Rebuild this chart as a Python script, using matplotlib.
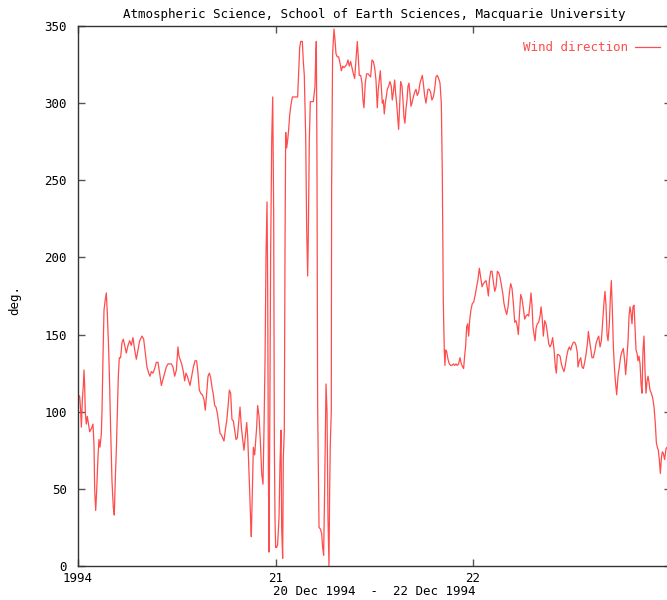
import matplotlib
matplotlib.use("Agg")
import matplotlib.pyplot as plt

# Wind direction, 20-22 Dec 1994. Time in hours since 20 Dec 00:00, direction in degrees.
hours = [
    0.00, 0.20, 0.32, 0.41, 0.53, 0.65, 0.73, 0.81, 0.89, 1.01, 1.13, 1.30, 1.42, 1.62, 1.82,
    1.94, 2.03, 2.15, 2.27, 2.43, 2.55, 2.67, 2.84, 2.92, 3.04, 3.16, 3.32, 3.44, 3.56, 3.73,
    3.85, 3.97, 4.13, 4.29, 4.41, 4.54, 4.66, 4.78, 4.90, 5.02, 5.18, 5.35, 5.51, 5.67, 5.87,
    6.08, 6.28, 6.48, 6.68, 6.89, 7.09, 7.29, 7.49, 7.78, 7.98, 8.18, 8.38, 8.59, 8.75, 8.91,
    9.11, 9.32, 9.52, 9.72, 9.92, 10.13, 10.33, 10.53, 10.73, 10.94, 11.34, 11.54, 11.75, 11.95,
    12.15, 12.27, 12.60, 12.80, 12.96, 13.12, 13.29, 13.45, 13.61, 13.81, 14.02, 14.22, 14.42,
    14.58, 14.74, 14.91, 15.11, 15.31, 15.47, 15.64, 15.80, 15.96, 16.12, 16.28, 16.45, 16.61,
    16.77, 16.93, 17.09, 17.26, 17.42, 17.58, 17.74, 17.90, 18.07, 18.23, 18.39, 18.55, 18.71,
    18.88, 19.04, 19.20, 19.36, 19.52, 19.69, 19.85, 20.01, 20.17, 20.33, 20.50, 20.62, 20.74,
    20.86, 20.98, 21.06, 21.18, 21.31, 21.47, 21.71, 21.83, 22.00, 22.16, 22.32, 22.48, 22.60,
    22.73, 22.85, 22.97, 23.05, 23.13, 23.21, 23.29, 23.41, 23.54, 23.66, 23.78, 23.86, 23.94,
    24.02, 24.14, 24.26, 24.43, 24.55, 24.67, 24.75, 24.87, 24.95, 25.07, 25.16, 25.24, 25.36,
    25.48, 25.60, 25.72, 25.88, 26.05, 26.37, 26.69, 26.82, 26.94, 27.06, 27.26, 27.38, 27.50,
    27.67, 27.79, 27.91, 27.99, 28.11, 28.23, 28.40, 28.60, 28.80, 28.88, 28.96, 29.04, 29.12,
    29.29, 29.45, 29.61, 29.73, 29.85, 29.98, 30.14, 30.26, 30.38, 30.50, 30.58, 30.66, 30.78,
    30.82, 30.94, 31.11, 31.23, 31.35, 31.51, 31.67, 31.84, 32.00, 32.16, 32.32, 32.48, 32.65,
    32.81, 32.97, 33.13, 33.29, 33.46, 33.62, 33.78, 33.94, 34.06, 34.18, 34.35, 34.51, 34.63,
    34.75, 34.91, 35.07, 35.24, 35.40, 35.56, 35.72, 35.89, 36.05, 36.21, 36.37, 36.49, 36.61,
    36.74, 36.86, 36.98, 37.10, 37.22, 37.34, 37.46, 37.59, 37.75, 37.91, 38.07, 38.19, 38.32,
    38.48, 38.60, 38.72, 38.84, 38.96, 39.08, 39.21, 39.37, 39.49, 39.61, 39.73, 39.85, 39.98,
    40.10, 40.22, 40.34, 40.46, 40.58, 40.75, 40.91, 41.07, 41.23, 41.39, 41.56, 41.72, 41.84,
    41.96, 42.12, 42.28, 42.41, 42.53, 42.69, 42.85, 43.01, 43.18, 43.34, 43.50, 43.66, 43.82,
    43.99, 44.15, 44.27, 44.39, 44.51, 44.59, 44.67, 44.80, 44.96, 45.12, 45.28, 45.44, 45.61,
    45.77, 45.93, 46.09, 46.25, 46.42, 46.58, 46.74, 46.86, 46.98, 47.10, 47.23, 47.35, 47.47,
    47.59, 47.75, 47.91, 48.08, 48.24, 48.44, 48.61, 48.77, 48.94, 49.10, 49.26, 49.42, 49.58,
    49.75, 49.87, 49.99, 50.15, 50.31, 50.48, 50.64, 50.80, 50.96, 51.12, 51.29, 51.45, 51.61,
    51.77, 51.93, 52.10, 52.26, 52.42, 52.58, 52.74, 52.91, 53.07, 53.23, 53.39, 53.51, 53.63,
    53.80, 53.96, 54.12, 54.28, 54.44, 54.61, 54.77, 54.93, 55.05, 55.17, 55.29, 55.42, 55.54,
    55.66, 55.82, 55.98, 56.15, 56.27, 56.39, 56.55, 56.71, 56.87, 57.04, 57.20, 57.36, 57.52,
    57.68, 57.85, 58.01, 58.13, 58.25, 58.41, 58.58, 58.74, 58.90, 59.06, 59.22, 59.39, 59.55,
    59.71, 59.87, 60.03, 60.20, 60.36, 60.52, 60.68, 60.76, 60.92, 61.09, 61.25, 61.41, 61.57,
    61.73, 61.90, 62.02, 62.14, 62.30, 62.46, 62.62, 62.79, 62.95, 63.11, 63.27, 63.44, 63.60,
    63.76, 63.92, 64.04, 64.16, 64.29, 64.41, 64.57, 64.69, 64.81, 64.93, 65.06, 65.18, 65.30,
    65.46, 65.62, 65.78, 65.95, 66.11, 66.27, 66.43, 66.55, 66.68, 66.84, 66.96, 67.08, 67.20,
    67.32, 67.44, 67.57, 67.69, 67.81, 67.93, 68.05, 68.17, 68.30, 68.42, 68.54, 68.66, 68.78,
    68.90, 69.02, 69.15, 69.27, 69.39, 69.51, 69.67, 69.83, 70.00, 70.16, 70.28, 70.40, 70.52,
    70.64, 70.77, 70.89, 71.01, 71.13, 71.29, 71.45, 71.58,
]
direction = [
    111, 110, 101, 90, 108, 117, 127, 117, 99, 92, 97, 91, 87, 89, 92,
    79, 49, 36, 49, 71, 82, 77, 86, 101, 136, 166, 173, 177, 164, 140,
    116, 88, 55, 38, 33, 58, 75, 99, 123, 135, 135, 145, 147, 143, 138,
    143, 146, 143, 148, 140, 134, 140, 146, 149, 147, 138, 129, 125, 123, 126,
    125, 128, 132, 132, 125, 117, 121, 125, 129, 131, 131, 129, 123, 127,
    142, 136, 131, 126, 120, 125, 123, 120, 117, 123, 129, 133, 133,
    125, 114, 112, 111, 108, 101, 112, 123, 125, 122, 116, 111, 104,
    103, 99, 93, 86, 85, 83, 81, 88, 94, 103, 114, 112, 95,
    94, 88, 82, 83, 93, 103, 90, 82, 75, 84, 93, 84, 67,
    49, 29, 19, 47, 77, 72, 90, 104, 97, 81, 60, 53, 88,
    134, 202, 236, 181, 67, 9, 76, 202, 276, 304, 227, 79, 30,
    12, 12, 14, 32, 67, 88, 25, 5, 70, 88, 211, 281, 271,
    276, 283, 292, 299, 304, 304, 304, 320, 336, 340, 340, 327, 318,
    278, 218, 188, 216, 276, 301, 301, 301, 311, 329, 340, 262, 104,
    25, 24, 21, 12, 7, 53, 118, 100, 30, 0, 49, 79, 100,
    246, 332, 348, 341, 332, 330, 330, 326, 321, 324, 323, 324, 325,
    328, 324, 327, 323, 319, 316, 328, 340, 330, 318, 318, 313, 302,
    297, 313, 319, 319, 318, 317, 328, 327, 323, 315, 297, 309, 315,
    321, 311, 300, 302, 293, 300, 304, 309, 311, 314, 311, 302, 307,
    315, 306, 300, 291, 283, 298, 314, 311, 302, 291, 287, 296, 302,
    311, 313, 306, 298, 300, 304, 307, 309, 305, 307, 313, 316, 318,
    313, 305, 300, 305, 309, 309, 307, 302, 304, 309, 317, 318, 316,
    313, 300, 255, 172, 140, 130, 140, 139, 134, 131, 130, 130, 131,
    130, 131, 130, 131, 135, 131, 129, 128, 136, 142, 155, 157, 149,
    159, 166, 170, 171, 175, 181, 186, 193, 187, 181, 183, 184, 185,
    180, 175, 185, 191, 191, 184, 178, 181, 191, 190, 187, 182, 177,
    170, 166, 163, 168, 177, 183, 180, 170, 158, 159, 155, 150, 162,
    176, 173, 167, 160, 162, 163, 162, 170, 177, 169, 155, 150, 146,
    154, 157, 158, 162, 168, 162, 149, 159, 157, 151, 144, 142, 144,
    148, 140, 129, 125, 137, 137, 136, 131, 128, 126, 130, 136, 140,
    142, 140, 143, 145, 145, 143, 138, 129, 133, 135, 129, 128, 132,
    137, 144, 152, 147, 141, 135, 135, 139, 144, 147, 149, 142, 146,
    159, 171, 178, 169, 150, 146, 157, 174, 185, 166, 142, 129, 120,
    111, 123, 129, 136, 139, 141, 133, 124, 133, 146, 162, 168, 164,
    157, 168, 169, 155, 140, 138, 133, 136, 131, 118, 112, 140, 149,
    127, 112, 120, 123, 119, 114, 112, 109, 103, 92, 80, 77, 75,
    69, 60, 70, 74, 73, 69, 76, 77,
]

day_ticks = [0, 24, 48]
day_labels = ["1994", "21", "22"]
y_ticks = [0, 50, 100, 150, 200, 250, 300, 350]

MONO = "DejaVu Sans Mono"
RED = "#ff4c4c"
FS = 9

fig = plt.figure(figsize=(6.67, 6.0), dpi=100)
ax = fig.add_axes([78 / 667, 34 / 600, 592.5 / 667, 540 / 600])
ax.plot(hours, direction, color=RED, lw=0.9)

ax.set_xlim(0, 72)
ax.set_ylim(0, 350)
ax.set_xticks(day_ticks)
ax.set_xticklabels(day_labels)
ax.set_yticks(y_ticks)
ax.tick_params(direction="in", length=5, width=1, color="#555555",
               top=True, right=True, labelsize=FS)
ax.tick_params(axis="x", pad=4)
ax.tick_params(axis="y", pad=8)
for lbl in ax.get_xticklabels() + ax.get_yticklabels():
    lbl.set_family(MONO)
for lado in ax.spines.values():
    lado.set_color("#333333")
    lado.set_linewidth(1.0)

ax.set_title("Atmospheric Science, School of Earth Sciences, Macquarie University",
             family=MONO, fontsize=FS, pad=6)
ax.set_xlabel("20 Dec 1994  -  22 Dec 1994", family=MONO, fontsize=FS, labelpad=0)
fig.text(15 / 667, 1 - 300 / 600, "deg.", rotation=90, ha="center", va="center",
         family=MONO, fontsize=FS)

# legenda no canto superior direito, texto antes da amostra de linha
ax.text(0.928, 0.961, "Wind direction", transform=ax.transAxes, ha="right", va="center",
        family=MONO, fontsize=FS, color=RED)
ax.plot([0.94, 0.982], [0.961, 0.961], transform=ax.transAxes, color=RED, lw=0.9)

fig.savefig("out.png", dpi=100, facecolor="white")
